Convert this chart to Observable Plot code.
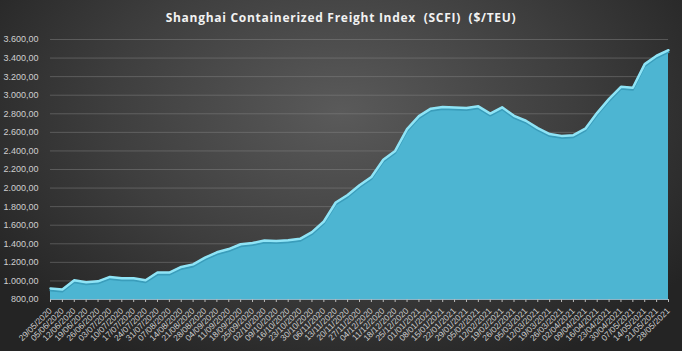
<!DOCTYPE html>
<html><head><meta charset="utf-8">
<script src="https://cdn.jsdelivr.net/npm/d3@7"></script>
<script src="https://cdn.jsdelivr.net/npm/@observablehq/plot@0.6"></script>
<style>
html,body{margin:0;padding:0;background:#262626;}
body{width:682px;height:351px;overflow:hidden;}
#wrap{position:relative;width:682px;height:351px;background:radial-gradient(ellipse 62% 80% at 50% 32%, #5a5a5a 0%, #3e3e3e 55%, #242424 100%);}
#title{position:absolute;top:9px;left:0;width:682px;text-align:center;color:#f2f2f2;font:bold 12px "Open Sans";letter-spacing:0.72px;white-space:pre;z-index:2;}
#wrap svg{position:absolute;left:0;top:0;}
</style></head>
<body><div id="wrap"><div id="title">Shanghai Containerized Freight Index  (SCFI)  ($/TEU)</div></div>
<script>
const dates = ["29/05/2020","05/06/2020","12/06/2020","19/06/2020","26/06/2020","03/07/2020","10/07/2020","17/07/2020","24/07/2020","31/07/2020","07/08/2020","14/08/2020","21/08/2020","28/08/2020","04/09/2020","11/09/2020","18/09/2020","25/09/2020","02/10/2020","09/10/2020","16/10/2020","23/10/2020","30/10/2020","06/11/2020","13/11/2020","20/11/2020","27/11/2020","04/12/2020","11/12/2020","18/12/2020","25/12/2020","01/01/2021","08/01/2021","15/01/2021","22/01/2021","29/01/2021","05/02/2021","12/02/2021","19/02/2021","26/02/2021","05/03/2021","12/03/2021","19/03/2021","26/03/2021","02/04/2021","09/04/2021","16/04/2021","23/04/2021","30/04/2021","07/05/2021","14/05/2021","21/05/2021","28/05/2021"];
const values = [918,908,1008,985,996,1043,1029,1028,1008,1090,1090,1151,1178,1250,1308,1343,1395,1408,1435,1431,1437,1453,1525,1640,1845,1925,2030,2120,2305,2400,2635,2775,2855,2872,2868,2862,2880,2802,2870,2778,2725,2645,2582,2562,2570,2640,2810,2960,3090,3080,3335,3425,3485];
const yTicks = [800,1000,1200,1400,1600,1800,2000,2200,2400,2600,2800,3000,3200,3400,3600];

const fmt = d3.formatLocale({decimal:",", thousands:".", grouping:[3], currency:["",""]}).format(",.2f");
const data = dates.map((d,i)=>({date:d, value:values[i]}));
const chart = Plot.plot({
  width:682, height:351, marginLeft:50, marginRight:14, marginTop:39, marginBottom:52,
  style:{background:"transparent", color:"#cfcfcf", fontFamily:"Liberation Sans", fontSize:"9px"},
  x:{type:"point", domain:dates, padding:0, label:null},
  y:{domain:[800,3600], label:null},
  marks:[
    Plot.gridY(yTicks, {stroke:"#8a8a8a", strokeOpacity:0.45}),
    Plot.areaY(data,{x:"date", y1:800, y2:"value", fill:"#4db5d2"}),
    Plot.lineY(data,{x:"date", y:"value", stroke:"#3a9dbb", strokeWidth:2, dy:2}),
    Plot.lineY(data,{x:"date", y:"value", stroke:"#8fe4f6", strokeWidth:2.5}),
    Plot.ruleY([800], {stroke:"#8fb3c4"}),
    Plot.axisY(yTicks, {tickSize:0, tickPadding:12, tickFormat:fmt, fill:"#cfcfcf", label:null}),
    Plot.axisX(dates, {tickRotate:-45, tickSize:3, tickPadding:7, stroke:"#bbbbbb", fill:"#cfcfcf", fontSize:8.5, label:null})
  ]
});
document.getElementById("wrap").appendChild(chart);
</script>
</body></html>
